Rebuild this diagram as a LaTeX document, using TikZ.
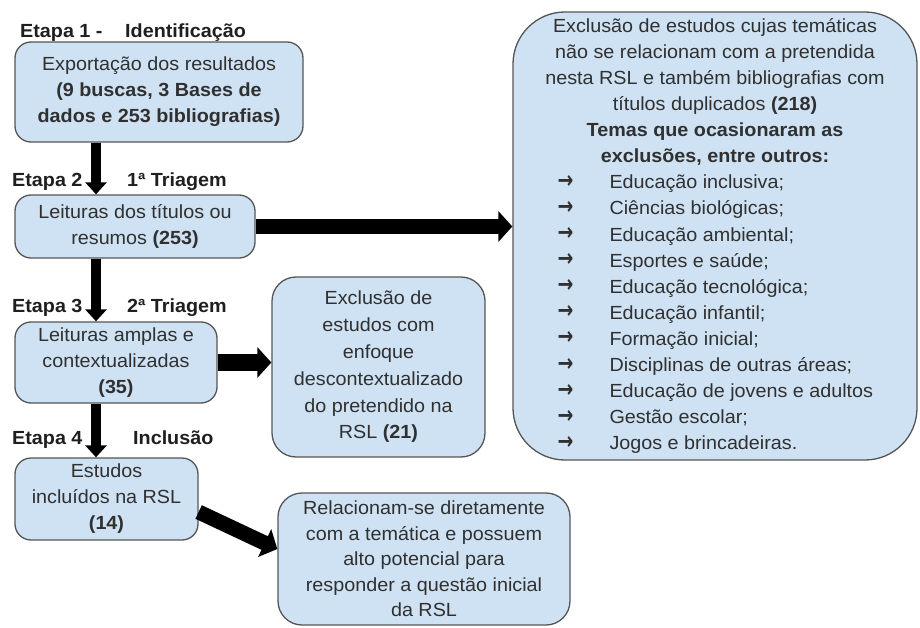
\documentclass[tikz,border=0pt]{standalone}
\usepackage{fontspec}
\setmainfont{Liberation Sans}[FakeStretch=1.04]
\newfontfamily\arrowfont{DejaVu Sans}
\usetikzlibrary{arrows.meta}
\definecolor{boxblue}{HTML}{CFE2F3}
\definecolor{bordergray}{HTML}{555555}
\definecolor{textgray}{HTML}{303030}
\newcommand{\listitem}[1]{\makebox[315pt][l]{\makebox[52pt][l]{\raisebox{0.5pt}{\arrowfont\bfseries\fontsize{21}{26}\selectfont\scalebox{0.9}[1.15]{→}}}#1}}
\begin{document}
\begin{tikzpicture}[x=1pt,y=-1pt,
  box/.style={draw=bordergray, fill=boxblue, line width=1.3pt, rounded corners=16pt,
    align=center, inner sep=0pt, text=textgray, font=\fontsize{19}{26}\selectfont},
  stagelabel/.style={anchor=base west, inner sep=0pt, text=black!88, font=\fontsize{19}{23}\selectfont\bfseries},
  varrow/.style={line width=10pt, -{Triangle[width=21pt,length=12pt]}},
  harrow/.style={line width=15pt, -{Triangle[width=30pt,length=14pt]}},
  harrowb/.style={line width=17pt, -{Triangle[width=30pt,length=14pt]}}
]
\useasboundingbox (0,0) rectangle (920,628);

% boxes
\node[box, minimum width=288pt, minimum height=100pt] (b1) at (159,92)
  {Exportação dos resultados\\ \textbf{(9 buscas, 3 Bases de}\\ \textbf{dados e 253 bibliografias)}};
\node[box, minimum width=240pt, minimum height=63pt] (b2) at (135,226.5)
  {Leituras dos títulos ou\\ resumos \textbf{(253)}};
\node[box, minimum width=202pt, minimum height=81pt] (b3) at (116,362.5)
  {Leituras amplas e\\ contextualizadas\\ \textbf{(35)}};
\node[box, minimum width=213pt, minimum height=180pt, rounded corners=24pt,
  font=\fontsize{19}{26.8}\selectfont] (b4) at (378.5,367)
  {Exclusão de\\ estudos com\\ enfoque\\ descontextualizado\\ do pretendido na\\ RSL \textbf{(21)}};
\node[box, minimum width=183pt, minimum height=82pt] (b5) at (106.5,499)
  {Estudos\\ incluídos na RSL\\ \textbf{(14)}};
\node[box, minimum width=292pt, minimum height=132pt, rounded corners=24pt,
  font=\fontsize{19}{25.5}\selectfont] (b6) at (424,559)
  {Relacionam-se diretamente\\ com a temática e possuem\\ alto potencial para\\ responder a questão inicial\\ da RSL};
\node[box, minimum width=404pt, minimum height=448pt, rounded corners=52pt,
  font=\fontsize{19}{26.1}\selectfont] (big) at (715,236)
  {Exclusão de estudos cujas temáticas\\
   não se relacionam com a pretendida\\
   nesta RSL e também bibliografias com\\
   títulos duplicados \textbf{(218)}\\
   \textbf{Temas que ocasionaram as}\\
   \textbf{exclusões, entre outros:}\\
   \listitem{Educação inclusiva;}\\
   \listitem{Ciências biológicas;}\\
   \listitem{Educação ambiental;}\\
   \listitem{Esportes e saúde;}\\
   \listitem{Educação tecnológica;}\\
   \listitem{Educação infantil;}\\
   \listitem{Formação inicial;}\\
   \listitem{Disciplinas de outras áreas;}\\
   \listitem{Educação de jovens e adultos}\\
   \listitem{Gestão escolar;}\\
   \listitem{Jogos e brincadeiras.}};

% stage labels
\node[stagelabel] (e1) at (20,38) {Etapa 1 -};
\node[stagelabel] (t1) at (125,38) {Identificação};
\node[stagelabel] (e2) at (12,187) {Etapa 2};
\node[stagelabel] (t2) at (127,187) {1ª Triagem};
\node[stagelabel] (e3) at (12,312) {Etapa 3};
\node[stagelabel] (t3) at (127,312) {2ª Triagem};
\node[stagelabel] (e4) at (12,444) {Etapa 4};
\node[stagelabel] (t4) at (133,444) {Inclusão};

% arrows
\coordinate (ax) at (96,0);
\draw[varrow] (b1.south -| ax) -- (b2.north -| ax);
\draw[varrow] (b2.south -| ax) -- (b3.north -| ax);
\draw[varrow] (b3.south -| ax) -- (b5.north -| ax);
\draw[harrow] (b2.east) -- (b2.east -| big.west);
\draw[harrowb] (b3.east) -- (b3.east -| b4.west);
\draw[harrow] ([yshift=-13pt]b5.east) -- ([yshift=10pt]b6.west);
\end{tikzpicture}
\end{document}
